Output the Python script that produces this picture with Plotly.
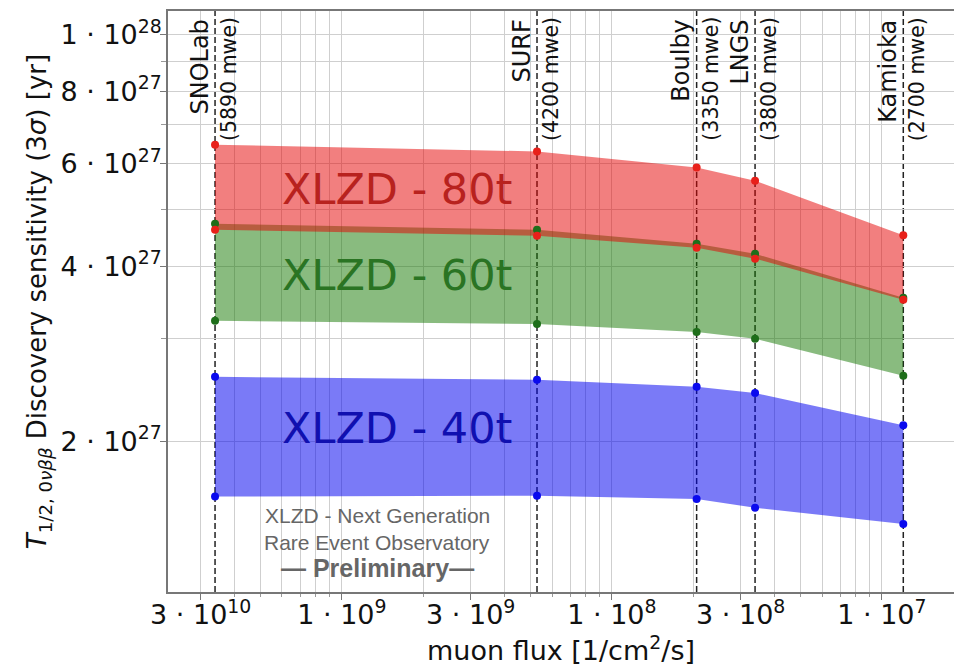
import plotly.graph_objects as go
import math

# ---------------- data ----------------
stations = ["SNOLab", "SURF", "Boulby", "LNGS", "Kamioka"]
depth_labels = ["(5890 mwe)", "(4200 mwe)", "(3350 mwe)", "(3800 mwe)", "(2700 mwe)"]
muon_flux = [3.39e-10, 5.28e-9, 2.06e-8, 3.39e-8, 1.20e-7]

t80_hi = [6.47e27, 6.30e27, 5.91e27, 5.61e27, 4.52e27]
t80_lo = [4.62e27, 4.51e27, 4.30e27, 4.12e27, 3.50e27]
t60_hi = [4.73e27, 4.62e27, 4.37e27, 4.20e27, 3.53e27]
t60_lo = [3.22e27, 3.18e27, 3.08e27, 3.00e27, 2.59e27]
t40_hi = [2.58e27, 2.55e27, 2.48e27, 2.42e27, 2.13e27]
t40_lo = [1.605e27, 1.61e27, 1.59e27, 1.536e27, 1.44e27]

x_tickvals = [3e-10, 1e-9, 3e-9, 1e-8, 3e-8, 1e-7]
x_ticktext = ["3 · 10<sup>10</sup>", "1 · 10<sup>9</sup>", "3 · 10<sup>9</sup>",
              "1 · 10<sup>8</sup>", "3 · 10<sup>8</sup>", "1 · 10<sup>7</sup>"]
y_tickvals = [2e27, 4e27, 6e27, 8e27, 1e28]
y_ticktext = ["2 · 10<sup>27</sup>", "4 · 10<sup>27</sup>", "6 · 10<sup>27</sup>",
              "8 · 10<sup>27</sup>", "1 · 10<sup>28</sup>"]

bands = [
    ("XLZD - 40t", t40_lo, t40_hi, "rgba(0,0,240,0.52)", "#0a0aee", "#1010b0", 2.107e27),
    ("XLZD - 60t", t60_lo, t60_hi, "rgba(20,120,0,0.5)", "#1e6e1a", "#2a7423", 3.86e27),
    ("XLZD - 80t", t80_lo, t80_hi, "rgba(230,0,0,0.5)", "#e8201a", "#b8221e", 5.43e27),
]

FONT = "DejaVu Sans"
GRID = "#cfcfcf"

fig = go.Figure()

for name, lo, hi, fill, mcol, tcol, ylab in bands:
    xs = muon_flux + muon_flux[::-1]
    ys = hi + lo[::-1]
    fig.add_trace(go.Scatter(x=xs, y=ys, mode="lines", fill="toself",
                             fillcolor=fill, line=dict(width=0),
                             hoverinfo="skip", showlegend=False))
for name, lo, hi, fill, mcol, tcol, ylab in bands:
    fig.add_trace(go.Scatter(x=muon_flux + muon_flux, y=hi + lo, mode="markers",
                             marker=dict(size=8, color=mcol), showlegend=False))

# station dashed lines and labels
for st, dl, fx in zip(stations, depth_labels, muon_flux):
    fig.add_shape(type="line", xref="x", yref="paper", x0=fx, x1=fx, y0=0, y1=1,
                  line=dict(color="#222", width=1.5, dash="6px,3px"), layer="between")
    fig.add_annotation(x=math.log10(fx), xref="x", y=1, yref="paper", text=st,
                       textangle=-90, showarrow=False, xanchor="right", yanchor="top",
                       xshift=0, yshift=-7, font=dict(family=FONT, size=24, color="#111"))
    fig.add_annotation(x=math.log10(fx), xref="x", y=1, yref="paper", text=dl,
                       textangle=-90, showarrow=False, xanchor="left", yanchor="top",
                       xshift=0, yshift=-4, font=dict(family=FONT, size=20.5, color="#111"))

# band labels
for name, lo, hi, fill, mcol, tcol, ylab in bands:
    fig.add_annotation(x=math.log10(1.6e-9), xref="x", y=math.log10(ylab), yref="y",
                       text=name, showarrow=False, xanchor="center", yanchor="middle",
                       font=dict(family=FONT, size=43, color=tcol))

# preliminary note
note = [("XLZD - Next Generation", 0.1325, 21),
        ("Rare Event Observatory", 0.086, 21),
        ("<b>— Preliminary—</b>", 0.041, 25)]
for txt, yp, sz in note:
    fig.add_annotation(x=0.266, xref="paper", y=yp, yref="paper", text=txt,
                       showarrow=False, xanchor="center", yanchor="middle",
                       font=dict(family="Liberation Sans", size=sz, color="#666"))

x_minor = [m * 10.0 ** e for e in range(-11, -5) for m in range(1, 10)]
y_minor = [m * 10.0 ** e for e in range(26, 29) for m in range(1, 10)]

fig.update_layout(
    width=954, height=668,
    margin=dict(l=168, r=0, t=11, b=76),
    plot_bgcolor="white", paper_bgcolor="white",
    font=dict(family=FONT, size=27, color="#111"),
    xaxis=dict(type="log", range=[-9.644, -6.733], tickmode="array",
               tickvals=x_tickvals, ticktext=x_ticktext,
               showgrid=True, gridcolor=GRID, gridwidth=1,
               showline=True, linecolor="#777", linewidth=1.5, mirror=True,
               ticks="outside", ticklen=6, tickcolor="#777", ticklabelstandoff=-8,
               minor=dict(tickmode="array", tickvals=x_minor, ticks="outside",
                          ticklen=3, tickcolor="#999", showgrid=True,
                          gridcolor=GRID, gridwidth=1),
               zeroline=False, automargin=False,
               title=dict(text="muon flux [1/cm<sup>2</sup>/s]", standoff=12,
                          font=dict(family=FONT, size=27))),
    yaxis=dict(type="log", range=[27.0413, 28.041], tickmode="array",
               tickvals=y_tickvals, ticktext=y_ticktext,
               showgrid=True, gridcolor=GRID, gridwidth=1,
               showline=True, linecolor="#777", linewidth=1.5, mirror=True,
               ticks="outside", ticklen=6, tickcolor="#777", ticklabelstandoff=-7,
               minor=dict(tickmode="array", tickvals=y_minor, ticks="outside",
                          ticklen=5, tickcolor="#999", showgrid=True,
                          gridcolor=GRID, gridwidth=1),
               zeroline=False, automargin=False,
               title=dict(text="<i>T</i><sub>1/2, 0<i>νββ</i></sub> Discovery sensitivity (3<i>σ</i>) [yr]",
                          standoff=6, font=dict(family=FONT, size=26))),
)

fig.write_html("out.html")
